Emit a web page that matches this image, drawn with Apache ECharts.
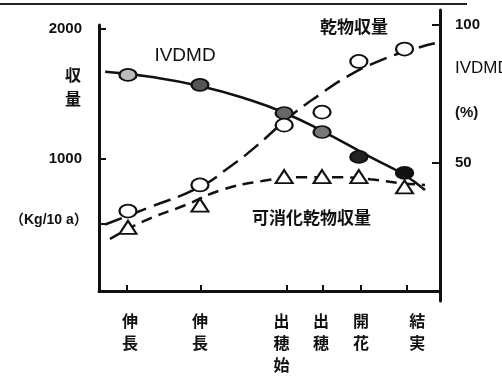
<!DOCTYPE html>
<html>
<head>
<meta charset="utf-8">
<script src="https://cdn.jsdelivr.net/npm/echarts@6/dist/echarts.min.js"></script>
<style>
  html, body { margin: 0; padding: 0; background: #fff; }
  #chart { width: 502px; height: 376px; }
</style>
</head>
<body>
<div id="chart"></div>
<script>
  // growth stages on the x axis (position along the season, 0..100)
  const stages = ['伸長', '伸長', '出穂始', '出穂', '開花', '結実']
  const stageX = [8.2, 29.9, 55.1, 65.7, 76.8, 90.3]
  const stageLabelX = [9.1, 29.6, 53.5, 65.1, 76.8, 93.3]
  const sampleX = [8.5, 29.6, 54.3, 65.4, 76.2, 89.6]

  // observed values
  const dryYield = [600, 800, 1260, 1360, 1750, 1845]      // 乾物収量 kg/10a
  const digestYield = [475, 645, 865, 865, 865, 785]       // 可消化乾物収量 kg/10a
  const ivdmd = [81.9, 78.3, 68.1, 61.2, 52.2, 46.4]       // IVDMD %

  // hand fitted curves
  const dryFitX = [1.8, 15.0, 29.6, 38.4, 45.7, 56.0, 64.8, 73.0, 82.4, 91.2, 98.5]
  const dryFitY = [496, 630, 785, 941, 1089, 1326, 1496, 1637, 1756, 1837, 1889]
  const digFitX = [3.2, 13.5, 25.2, 36.1, 47.8, 58.9, 70.7, 79.5, 88.3, 95.6]
  const digFitY = [385, 526, 644, 763, 830, 859, 859, 844, 815, 800]
  const ivFitX = [1.8, 15.0, 29.6, 44.3, 54.5, 64.8, 79.5, 89.1, 95.6]
  const ivFitY = [83.0, 81.2, 77.9, 72.8, 68.1, 62.0, 52.2, 46.0, 40.2]

  const leftTicks = [500, 1000, 2000]
  const leftLabels = [1000, 2000]
  const rightTicks = [50, 100]

  const ivColors = ['#bbb', '#555', '#666', '#777', '#222', '#111']

  const zip = (xs, ys) => xs.map((x, i) => [x, ys[i]])
  const cjk = "'Noto Sans CJK JP', sans-serif"
  const lat = "'Liberation Sans', Arial, sans-serif"

  const mychart = echarts.init(document.getElementById('chart'))
  mychart.setOption({
    animation: false,
    backgroundColor: '#fff',
    grid: [
      { left: 99, right: 62, top: 25, bottom: 75 },
      { left: 99, right: 62, top: 10, bottom: 75 }
    ],
    xAxis: [{
      type: 'value', gridIndex: 0, min: 0, max: 100,
      splitLine: { show: false },
      axisLine: { onZero: false, lineStyle: { color: '#111', width: 3 } },
      axisTick: { inside: true, length: 6, customValues: stageX, lineStyle: { color: '#111', width: 2 } },
      axisLabel: {
        customValues: stageLabelX,
        margin: 19,
        color: '#111', fontSize: 16, fontWeight: 'bold', fontFamily: cjk,
        lineHeight: 22, verticalAlign: 'top',
        formatter: v => {
          const i = stageLabelX.indexOf(v)
          return i < 0 ? '' : stages[i].split('').join('\n')
        }
      }
    }, {
      type: 'value', gridIndex: 1, min: 0, max: 100, show: false
    }],
    yAxis: [{
      type: 'value', gridIndex: 0, min: -15, max: 2030,
      splitLine: { show: false },
      axisLine: { show: true, onZero: false, lineStyle: { color: '#111', width: 3 } },
      axisTick: { inside: true, length: 7, customValues: leftTicks, lineStyle: { color: '#111', width: 2 } },
      axisLabel: {
        customValues: leftLabels, margin: 17,
        color: '#111', fontSize: 15, fontWeight: 'bold', fontFamily: lat,
        formatter: v => String(v)
      }
    }, {
      type: 'value', gridIndex: 1, position: 'right', min: 0, max: 105.4,
      splitLine: { show: false },
      axisLine: { show: true, onZero: false, lineStyle: { color: '#111', width: 3 } },
      axisTick: { inside: true, length: 8, customValues: rightTicks, lineStyle: { color: '#111', width: 2 } },
      axisLabel: {
        customValues: rightTicks, margin: 15,
        color: '#111', fontSize: 15, fontWeight: 'bold', fontFamily: lat,
        formatter: v => String(v)
      }
    }],
    graphic: [
      { type: 'line', shape: { x1: 0, y1: 4, x2: 467, y2: 4 }, style: { stroke: '#222', lineWidth: 2 } },
      { type: 'text', x: 185, y: 56, style: { text: 'IVDMD', fill: '#111', font: "19px 'Liberation Sans Narrow', sans-serif", align: 'center', verticalAlign: 'middle' } },
      { type: 'text', x: 320, y: 27, style: { text: '乾物収量', fill: '#111', font: "bold 17px " + cjk, verticalAlign: 'middle' } },
      { type: 'text', x: 252, y: 218, style: { text: '可消化乾物収量', fill: '#111', font: "bold 17px " + cjk, verticalAlign: 'middle' } },
      { type: 'text', x: 73, y: 87, style: { text: '収\n量', fill: '#111', font: "bold 16px " + cjk, lineHeight: 24, align: 'center', verticalAlign: 'middle' } },
      { type: 'text', x: 10, y: 220, style: { text: '（Kg/10 a）', fill: '#111', font: "bold 14px 'Liberation Sans', 'Noto Sans CJK JP', sans-serif", verticalAlign: 'middle' } },
      { type: 'text', x: 455, y: 68, style: { text: 'IVDMD', fill: '#111', font: "17px 'Liberation Sans Narrow', sans-serif", verticalAlign: 'middle' } },
      { type: 'text', x: 455, y: 113, style: { text: '(%)', fill: '#111', font: "bold 15px " + lat, verticalAlign: 'middle' } }
    ],
    series: [{
      name: 'IVDMD fit', type: 'line', xAxisIndex: 1, yAxisIndex: 1,
      data: zip(ivFitX, ivFitY), smooth: true, showSymbol: false,
      lineStyle: { color: '#111', width: 2.5 }
    }, {
      name: '乾物収量 fit', type: 'line', xAxisIndex: 0, yAxisIndex: 0,
      data: zip(dryFitX, dryFitY), smooth: true, showSymbol: false,
      lineStyle: { color: '#111', width: 2.5, type: [18, 8] }
    }, {
      name: '可消化乾物収量 fit', type: 'line', xAxisIndex: 0, yAxisIndex: 0,
      data: zip(digFitX, digFitY), smooth: true, showSymbol: false,
      lineStyle: { color: '#111', width: 2.5, type: [11, 7] }
    }, {
      name: 'IVDMD', type: 'scatter', xAxisIndex: 1, yAxisIndex: 1, z: 4,
      symbol: 'circle', symbolSize: [17, 12],
      data: sampleX.map((x, i) => ({ value: [x, ivdmd[i]], itemStyle: { color: ivColors[i] } })),
      itemStyle: { borderColor: '#111', borderWidth: 2, opacity: 1 }
    }, {
      name: '乾物収量', type: 'scatter', xAxisIndex: 0, yAxisIndex: 0, z: 4,
      symbol: 'circle', symbolSize: [17, 13],
      data: zip(sampleX, dryYield),
      itemStyle: { color: '#fff', borderColor: '#111', borderWidth: 2, opacity: 1 }
    }, {
      name: '可消化乾物収量', type: 'scatter', xAxisIndex: 0, yAxisIndex: 0, z: 4,
      symbol: 'triangle', symbolSize: [17, 13],
      data: zip(sampleX, digestYield),
      itemStyle: { color: '#fff', borderColor: '#111', borderWidth: 2, opacity: 1 }
    }]
  })
</script>
</body>
</html>
